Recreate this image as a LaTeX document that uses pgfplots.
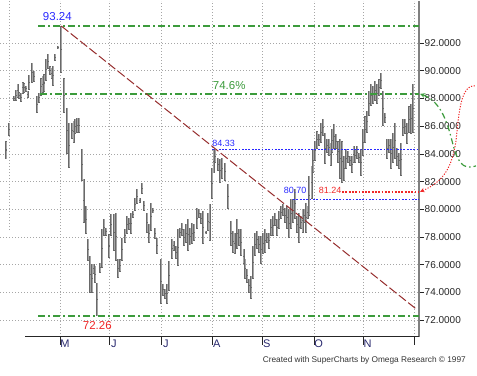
\documentclass[border=0pt]{standalone}
\usepackage{pgfplots}
\pgfplotsset{compat=1.18}
\usepackage{pgfplotstable}
\usepackage{fontspec}
\setmainfont{Liberation Sans}
\definecolor{gline}{RGB}{60,155,60}
\definecolor{bline}{RGB}{40,40,255}
\definecolor{rline}{RGB}{240,40,40}
\definecolor{trend}{RGB}{150,45,45}
\definecolor{barout}{RGB}{105,105,105}
\definecolor{barin}{RGB}{165,165,165}
\definecolor{axc}{RGB}{128,128,128}
\definecolor{mon}{RGB}{40,40,110}
\pgfplotstableread{
x h l
6 84.94 83.62
9 86.25 85.30
14 88.20 87.83
16 88.63 87.83
17.5 89.06 88.05
19 88.48 87.98
21 88.41 87.76
22.5 89.20 88.34
24 89.13 88.41
26 88.92 88.48
27.5 88.56 88.05
29 89.71 88.63
32 90.58 89.13
34 90.00 89.20
37 88.20 86.97
39 88.41 87.69
41 89.49 88.20
42.5 89.64 88.41
44 89.78 88.48
46 90.87 89.28
48 91.23 90.14
50 90.36 89.71
51.5 90.22 89.42
53 90.36 88.92
55 91.23 90.72
58 91.81 91.59
61 93.24 89.86
64 89.49 86.97
67 87.33 84.01
69 86.25 83.00
72 86.25 85.09
73.5 86.39 84.80
75 86.53 85.45
77 86.61 85.52
79 86.61 85.52
82 84.37 82.06
83.5 82.20 79.03
86 80.25 78.23
88 77.87 76.28
90 76.64 73.97
92 76.06 73.97
93.5 76.06 75.34
95 75.92 74.69
97 74.69 72.26
100 76.14 75.42
102 78.59 75.78
104 79.31 78.09
106 78.66 78.09
109 78.20 76.50
111 79.67 78.09
114 79.67 77.00
116 79.75 76.28
118 76.43 75.05
120 76.40 75.50
122 77.94 76.28
125 78.59 77.58
127 79.53 78.23
129 79.40 78.50
131 79.75 78.23
133 79.89 79.39
135 80.83 79.89
137 81.48 80.40
139.5 80.83 80.47
142 81.92 81.12
144 80.61 79.89
147 79.75 78.30
149 78.95 77.58
151 80.47 78.45
153 80.10 79.70
155 78.66 77.87
157 77.94 76.79
161 76.43 73.18
163 74.62 73.75
165 74.26 73.54
167 74.62 73.18
169 76.28 74.12
172 77.87 76.43
173.5 77.73 77.00
176 77.37 76.43
178 78.59 75.92
180 78.66 77.94
182 79.03 78.09
184 78.59 77.37
186 78.95 77.58
188 79.31 77.00
190 78.66 77.40
192 79.03 77.51
194 78.95 77.73
197 80.11 78.59
199 80.04 79.39
201 79.75 78.95
203 79.89 77.51
205.5 78.45 78.23
208 79.75 78.45
209.5 80.40 77.73
212 83.00 80.76
213.5 84.33 82.60
215 84.30 83.36
218 83.72 82.78
220 83.65 81.92
222 83.72 82.20
225 83.36 82.06
228 81.84 80.04
231 79.17 77.37
233 78.45 76.86
234.5 78.30 76.79
237 79.31 77.15
239 78.59 77.37
241 78.59 76.64
243.5 77.15 76.06
245 76.43 74.98
247 75.70 74.69
249 74.98 73.97
251 75.20 73.54
253 77.37 74.98
255 78.30 76.64
257 78.45 77.15
259 78.09 76.86
261 78.09 76.06
263 78.30 76.79
265 78.59 76.86
267 78.30 77.58
269 78.30 77.15
271 79.31 78.09
273 79.53 78.09
275 79.75 78.81
277 79.31 78.09
279 79.89 78.59
281 80.25 79.31
283 80.40 79.53
285 80.11 79.03
287 80.25 78.59
289 80.04 77.94
291 80.76 78.59
293 80.76 79.03
295 81.48 79.31
297 79.53 78.30
299 79.75 77.58
301 79.53 78.59
302.5 80.04 78.30
304 80.04 79.03
306 80.47 78.30
307.5 80.25 79.31
309 82.42 79.53
311.5 83.14 80.76
313 84.37 82.64
315 84.94 83.50
317 85.66 84.37
319 85.45 84.59
321 86.25 84.80
323 86.53 85.30
325 85.52 83.29
327 85.09 84.08
329 85.09 83.86
330.5 84.80 83.14
332 85.81 84.08
334 86.17 84.37
336 85.45 84.37
338 84.94 83.36
340 85.09 82.20
342 84.94 81.92
344 83.86 82.06
346 84.37 82.92
348 84.22 83.36
350 83.86 83.14
352 83.86 82.64
353.5 84.59 83.36
355 84.37 83.36
357 84.59 83.65
359 84.08 83.36
361 84.37 82.42
363 85.81 83.86
365 86.74 84.80
367 87.11 85.52
369 88.56 86.74
371 89.06 87.46
373 88.92 87.62
375 89.28 87.83
377 89.06 87.62
379 89.42 88.20
381 89.86 88.70
383 88.56 86.03
385 86.97 86.25
387 85.09 83.65
389 85.09 84.08
391 85.09 82.92
393 85.52 83.36
395 86.25 83.65
397 84.44 83.14
399 84.08 82.92
401 84.80 82.42
403 86.53 85.30
405 86.53 85.45
407 86.25 84.73
409 87.46 85.52
411 87.62 85.45
413 89.06 85.52
}\bars
\begin{document}
\begin{tikzpicture}[x=1pt,y=1pt]
\path (0,-39) rectangle (477,336);
\begin{axis}[
  name=main,
  width=419pt, height=336pt, scale only axis,
  xmin=0, xmax=419, ymin=70.79, ymax=95.05,
  clip=false,
  axis x line*=bottom, axis y line*=right,
  x axis line style={draw=none},
  y axis line style={line width=2pt, draw=axc},
  xtick=\empty,
  minor xtick={37,49,73,85,98,124,137,148,173,187,199,224,237,249,275,288,300,326,338,351,375,388,400},
  extra x ticks={60,109,161,212,262,314,363,414},
  extra x tick labels={M,J,J,A,S,O,N,},
  extra x tick style={major tick length=8pt, grid=major},
  ytick={72,74,...,92},
  yticklabels={72.0000,74.0000,76.0000,78.0000,80.0000,82.0000,84.0000,86.0000,88.0000,90.0000,92.0000},
  tick align=outside,
  major tick length=5pt, minor tick length=4pt,
  tick style={draw=black!85, line width=0.8pt},
  xticklabel style={font=\fontsize{11}{12}\selectfont, text=mon, anchor=north, xshift=4.5pt, yshift=6pt, inner sep=1pt},
  yticklabel style={font=\fontsize{10}{12}\selectfont, text=black!85, anchor=west, inner sep=0.5pt},
  grid=major,
  major grid style={draw=black!35, line width=0.8pt, dash pattern=on 0.8pt off 2.2pt},
]
\draw[black!35, line width=0.8pt, dash pattern=on 0.8pt off 2.2pt] (axis cs:9,78.5) -- (axis cs:9,95.05);
\addplot[draw=none, mark=none, forget plot,
  error bars/.cd, y dir=both, y explicit, error mark=none,
  error bar style={draw=barout, solid, line width=2.1pt}]
  table[x=x, y expr={(\thisrow{h}+\thisrow{l})/2}, y error expr={(\thisrow{h}-\thisrow{l})/2}] {\bars};
\addplot[draw=none, mark=none, forget plot,
  error bars/.cd, y dir=both, y explicit, error mark=none,
  error bar style={draw=barin, solid, line width=0.8pt, shorten <=0.6pt, shorten >=0.6pt}]
  table[x=x, y expr={(\thisrow{h}+\thisrow{l})/2}, y error expr={(\thisrow{h}-\thisrow{l})/2}] {\bars};
\addplot[color=gline, solid, line width=2pt, dash pattern=on 7pt off 3pt on 2pt off 3pt] coordinates {(38,93.24) (419,93.24)};
\addplot[color=gline, solid, line width=2pt, dash pattern=on 7pt off 3pt on 2pt off 3pt] coordinates {(40,88.36) (419,88.36)};
\addplot[color=gline, solid, line width=2pt, dash pattern=on 7pt off 3pt on 2pt off 3pt] coordinates {(38,72.26) (419,72.26)};
\addplot[color=bline, solid, line width=1.4pt, dash pattern=on 1.8pt off 1.5pt] coordinates {(212,84.33) (419,84.33)};
\addplot[color=bline, solid, line width=1.4pt, dash pattern=on 1.8pt off 1.5pt] coordinates {(293,80.70) (419,80.70)};
\addplot[color=rline, solid, line width=1.3pt, dash pattern=on 1.8pt off 1.5pt] coordinates {(342,81.24) (419,81.24)};
\addplot[color=trend, solid, line width=1pt, dash pattern=on 9pt off 3pt] coordinates {(61,93.24) (416,72.8)};
\draw[black!85, line width=1.2pt] (axis cs:25,70.79) -- (axis cs:419,70.79);
\node[text=bline, font=\fontsize{11.5}{12}\selectfont, inner sep=0pt] at (axis cs:57,93.90) {93.24};
\node[text=rline, font=\fontsize{11.5}{12}\selectfont, inner sep=0pt] at (axis cs:97,71.59) {72.26};
\node[text=gline, font=\fontsize{11.5}{12}\selectfont, inner sep=0pt] at (axis cs:229,88.92) {74.6\%};
\node[text=bline, font=\fontsize{9}{10}\selectfont, inner sep=0pt, anchor=west] at (axis cs:212,84.73) {84.33};
\node[text=bline, font=\fontsize{9}{10}\selectfont, inner sep=0pt] at (axis cs:295,81.34) {80.70};
\node[text=rline, font=\fontsize{9}{10}\selectfont, inner sep=0pt] at (axis cs:330,81.34) {81.24};
\end{axis}
\draw[rline, line width=1pt, dash pattern=on 1.2pt off 1.5pt, <-, >=stealth] (420,145) .. controls (445,156) and (452,171) .. (456,196) .. controls (459,226) and (461,253) .. (476,251);
\draw[gline, line width=1.2pt, dash pattern=on 6pt off 3pt on 1.5pt off 3pt, <-, >=stealth] (420,243) .. controls (440,236) and (447,216) .. (452,196) .. controls (457,176) and (462,166) .. (476,171);
\node[text=black!80, font=\fontsize{8.3}{10}\selectfont, anchor=east, inner sep=0pt] at (466,-24) {Created with SuperCharts by Omega Research © 1997};
\end{tikzpicture}
\end{document}
